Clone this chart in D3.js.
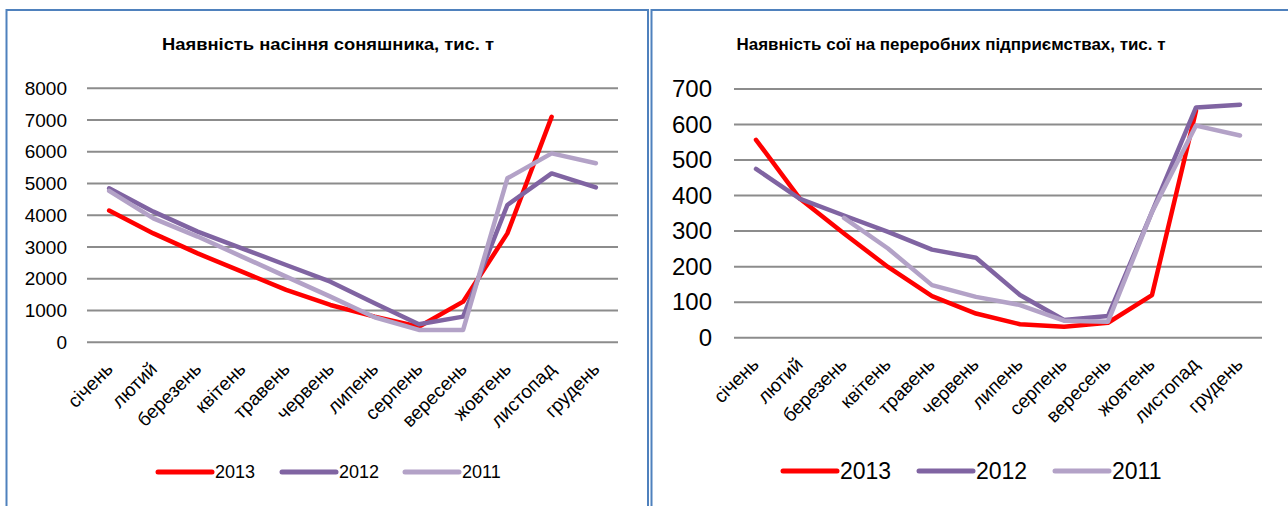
<!DOCTYPE html>
<html><head><meta charset="utf-8">
<script src="https://cdn.jsdelivr.net/npm/d3@7"></script>
<style>
html,body{margin:0;padding:0;background:#fff;}
svg{display:block;font-family:"Liberation Sans",Arial,sans-serif;}
</style></head>
<body>
<svg id="c" width="1288" height="506"></svg>
<script>
const months = ["січень","лютий","березень","квітень","травень","червень","липень","серпень","вересень","жовтень","листопад","грудень"];
const seriesNames = ["2013","2012","2011"];
const seriesColors = ["#FF0000","#8064A2","#B3A2C7"];

const sunTitle = "Наявність насіння соняшника, тис. т";
const sun2013 = [4150,3430,2800,2225,1650,1175,810,490,1280,3430,7100,null];
const sun2012 = [4850,4115,3485,2960,2435,1910,1230,567,808,4325,5320,4880];
const sun2011 = [4770,3905,3330,2700,2070,1440,790,390,390,5165,5950,5640];
const sunTicks = [0,1000,2000,3000,4000,5000,6000,7000,8000];

const soyTitle = "Наявність сої на переробних підприємствах, тис. т";
const soy2013 = [557,391,293,199,117,68,38,31,42,120,639,null];
const soy2012 = [475,391,344,298,248,225,120,50,61,354,648,656];
const soy2011 = [null,null,337,251,148,115,92,48,45,354,597,569];
const soyTicks = [0,100,200,300,400,500,600,700];

const svg = d3.select("#c");

// borders
svg.append("rect").attr("x",6.5).attr("y",10).attr("width",641.5).attr("height",520)
  .attr("fill","none").attr("stroke","#4F81BD").attr("stroke-width",2);
svg.append("rect").attr("x",651.5).attr("y",10).attr("width",700).attr("height",520)
  .attr("fill","none").attr("stroke","#4F81BD").attr("stroke-width",2);

function drawChart(cfg){
  const g = svg.append("g");
  const x = d3.scaleBand().domain(months).range([cfg.x0,cfg.x1]);
  const y = d3.scaleLinear().domain([0,cfg.ymax]).range([cfg.y0,cfg.y1]);
  // title
  g.append("text").attr("x",cfg.titleX).attr("y",cfg.titleY).attr("text-anchor","middle")
    .attr("font-weight","bold").attr("font-size",cfg.titleSize).attr("fill","#000")
    .attr("textLength",cfg.titleLen).attr("lengthAdjust","spacingAndGlyphs").text(cfg.title);
  // grid
  const yAxis = d3.axisLeft(y).tickValues(cfg.ticks).tickSize(0).tickPadding(0).tickFormat(d3.format("d"));
  const ya = g.append("g").attr("transform",`translate(${cfg.x0},0)`).call(yAxis);
  ya.select(".domain").remove();
  ya.selectAll("text").attr("x",-cfg.labelGap).attr("font-size",cfg.ySize).attr("fill","#000")
    .attr("font-family","Liberation Sans, Arial, sans-serif");
  g.append("g").selectAll("line").data(cfg.ticks).join("line")
    .attr("x1",cfg.x0).attr("x2",cfg.x1).attr("y1",d=>y(d)).attr("y2",d=>y(d))
    .attr("stroke","#8C8C8C").attr("stroke-width",2);
  // x labels
  const xAxis = d3.axisBottom(x).tickSize(0).tickPadding(0);
  const xa = g.append("g").attr("transform",`translate(0,${cfg.y0})`).call(xAxis);
  xa.select(".domain").remove();
  xa.selectAll("text").attr("y",0).attr("dy",0)
    .attr("text-anchor","end").attr("font-size",cfg.xSize).attr("fill","#000")
    .attr("font-family","Liberation Sans, Arial, sans-serif")
    .attr("transform",`translate(${cfg.xlOff[0]},${cfg.xlOff[1]}) rotate(-45)`);
  // lines
  const line = d3.line().defined(d=>d!=null).x((d,i)=>x(months[i])+x.bandwidth()/2).y(d=>y(d));
  cfg.series.forEach((s,k)=>{
    g.append("path").datum(s).attr("d",line).attr("fill","none")
      .attr("stroke",seriesColors[k]).attr("stroke-width",4.5)
      .attr("stroke-linejoin","round").attr("stroke-linecap","round");
  });
  // legend
  const lg = g.append("g");
  seriesNames.forEach((n,k)=>{
    const lx = cfg.legX[k];
    lg.append("line").attr("x1",lx).attr("x2",lx+cfg.legLen).attr("y1",cfg.legY).attr("y2",cfg.legY)
      .attr("stroke",seriesColors[k]).attr("stroke-width",5).attr("stroke-linecap","round");
    lg.append("text").attr("x",lx+cfg.legLen+3).attr("y",cfg.legY).attr("dy","0.36em")
      .attr("font-size",cfg.legSize).attr("fill","#000").text(n);
  });
}

drawChart({title:sunTitle,titleX:328,titleY:50,titleSize:17,titleLen:332,
  x0:87,x1:618,y0:342.3,y1:88.3,ymax:8000,ticks:sunTicks,labelGap:20,ySize:19,xSize:19,
  xlOff:[5,28],series:[sun2013,sun2012,sun2011],
  legX:[158,282,405],legLen:54,legY:472,legSize:18});

drawChart({title:soyTitle,titleX:951,titleY:50,titleSize:17,titleLen:429,
  x0:734,x1:1262,y0:337.7,y1:89,ymax:700,ticks:soyTicks,labelGap:22,ySize:24,xSize:19,
  xlOff:[4,28],series:[soy2013,soy2012,soy2011],
  legX:[783,919,1055],legLen:54,legY:471,legSize:23});
</script>
</body></html>
